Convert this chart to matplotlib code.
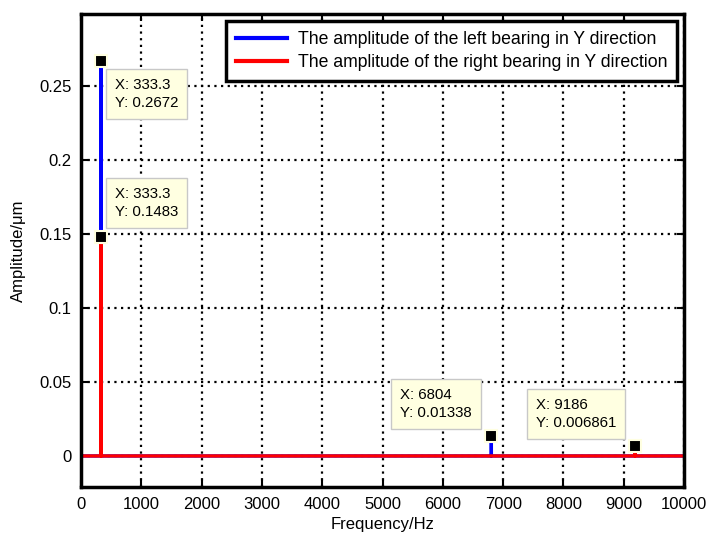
import matplotlib.pyplot as plt

plt.rcParams['font.family'] = ['Liberation Sans', 'DejaVu Sans']

# spectrum samples (Hz) and amplitudes (um)
freq = [0, 332.3, 333.3, 334.3, 6803.0, 6804.0, 6805.0, 9185.0, 9186.0, 9187.0, 10000]
left_amp = [0, 0, 0.2672, 0, 0, 0.01338, 0, 0, 0.0, 0, 0]
right_amp = [0, 0, 0.1483, 0, 0, 0.0, 0, 0, 0.006861, 0, 0]

# data tips
tip_x = [333.3, 333.3, 6804, 9186]
tip_y = [0.2672, 0.1483, 0.01338, 0.006861]
tip_text = ["X: 333.3\nY: 0.2672", "X: 333.3\nY: 0.1483",
            "X: 6804\nY: 0.01338", "X: 9186\nY: 0.006861"]
tip_pos = [(560, 0.245), (560, 0.171), (5290, 0.0353), (7540, 0.0285)]

fig = plt.figure(figsize=(7.08, 5.37), dpi=100)
ax = fig.add_axes([0.1144, 0.0931, 0.8518, 0.8808])

ax.plot(freq, left_amp, color="blue", lw=2.4,
        label="The amplitude of the left bearing in Y direction")
ax.plot(freq, right_amp, color="red", lw=2.4,
        label="The amplitude of the right bearing in Y direction")

ax.plot(tip_x, tip_y, ls="none", marker="s", ms=9, mfc="black",
        mec="#ffffe1", mew=1.5, zorder=5)
for (tx, ty), s in zip(tip_pos, tip_text):
    ax.text(tx, ty, s, fontsize=10.8, va="center", ha="left", linespacing=1.35,
            bbox=dict(boxstyle="square,pad=0.6", fc="#ffffe1", ec="#c8c8c8", lw=1),
            zorder=6)

ax.set_xlim(0, 10000)
ax.set_ylim(-0.021, 0.299)
ax.set_xticks(range(0, 10001, 1000))
ax.set_yticks([0, 0.05, 0.1, 0.15, 0.2, 0.25])
ax.set_yticklabels(["0", "0.05", "0.1", "0.15", "0.2", "0.25"])
ax.tick_params(direction="in", length=5, width=1.5, labelsize=12, pad=7,
               top=True, right=True)
ax.grid(True, color="black", ls=(0, (1, 2)), lw=1.6)
for sp in ax.spines.values():
    sp.set_linewidth(2.5)

ax.set_xlabel("Frequency/Hz", fontsize=12, labelpad=4)
ax.set_ylabel("Amplitude/μm", fontsize=12, labelpad=9)

leg = ax.legend(loc="upper right", fontsize=12.7, fancybox=False, framealpha=1,
                edgecolor="black", handlelength=2.9, borderaxespad=0.4,
                handletextpad=0.6, labelspacing=0.35, borderpad=0.55)
leg.get_frame().set_linewidth(2.5)
for h in leg.get_lines():
    h.set_linewidth(3)

fig.savefig("out.png", dpi=100)
